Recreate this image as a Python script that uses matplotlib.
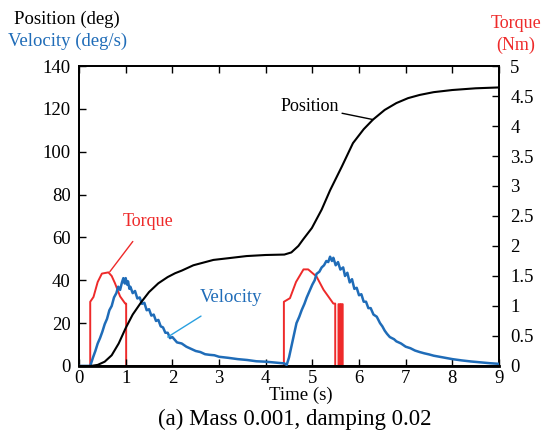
import matplotlib
matplotlib.use("Agg")
import matplotlib.pyplot as plt

plt.rcParams["font.family"] = ["Liberation Serif", "DejaVu Serif"]
plt.rcParams["font.size"] = 13

# 위치 (deg)
pos_t = [0, 0.25, 0.4, 0.55, 0.7, 0.85, 1.0, 1.15, 1.34, 1.5, 1.7, 1.9, 2.06, 2.2,
         2.45, 2.88, 3.2, 3.59, 4.0, 4.4, 4.55, 4.7, 4.8, 4.99, 5.2, 5.38, 5.63,
         5.87, 6.1, 6.3, 6.55, 6.8, 7.05, 7.3, 7.6, 8.0, 8.5, 9.0]
pos_v = [0, 0, 0.5, 2, 5, 10.5, 17.7, 24, 30, 34.5, 38.6, 41.5, 43.3, 44.5,
         47, 49.5, 50.3, 51.3, 51.8, 52, 53, 56, 59, 64.4, 73, 82, 93,
         104, 110.5, 115, 119.5, 122.7, 125, 126.5, 127.8, 128.8, 129.6, 130]

# 속도 (deg/s)
vel_t = [0, 0.24, 0.3, 0.35, 0.4, 0.45, 0.5, 0.55, 0.6, 0.65, 0.7, 0.75, 0.8, 0.84,
         0.88, 0.92, 0.95, 0.98, 1.0, 1.03, 1.05, 1.08, 1.1, 1.15, 1.2, 1.25, 1.3,
         1.35, 1.4, 1.45, 1.5, 1.55, 1.6, 1.65, 1.7, 1.75, 1.8, 1.85, 1.9, 1.95,
         2.0, 2.1, 2.2, 2.3, 2.4, 2.5, 2.6, 2.7, 2.8, 2.9, 3.0, 3.2, 3.4, 3.6,
         3.8, 4.0, 4.2, 4.4,
         4.45, 4.5, 4.55, 4.6, 4.66, 4.72, 4.77, 4.83, 4.88, 4.94, 5.0, 5.05, 5.09,
         5.15, 5.2, 5.25, 5.3, 5.34, 5.38, 5.42, 5.45, 5.5, 5.55, 5.6, 5.66, 5.7,
         5.75, 5.8, 5.85, 5.9, 5.95, 6.0, 6.05, 6.1, 6.15, 6.2, 6.25, 6.31, 6.38,
         6.45, 6.5, 6.55, 6.6, 6.66, 6.75, 6.8, 6.9, 7.0, 7.1, 7.2, 7.3, 7.4, 7.5,
         7.6, 7.7, 7.8, 7.9, 8.0, 8.2, 8.4, 8.6, 8.8, 9.0]
vel_v = [0, 0, 4, 7, 10.5, 13, 16, 19.5, 22, 26, 28, 32, 34, 37,
         35.5, 39, 41, 38.5, 41, 38, 39.5, 36, 37, 34, 35, 31.5, 32,
         29, 29.5, 26, 26.5, 23.5, 24, 21, 21.5, 18.5, 18, 15.5, 15.5, 13,
         13.5, 11, 10.5, 9, 8, 7, 6.5, 5.5, 5.2, 5, 4.3, 3.8, 3.2, 2.8,
         2.2, 2.0, 1.6, 1.2,
         0.5, 4, 9, 14, 20, 23, 26, 29, 32, 35, 38, 40, 43,
         44, 46, 47, 49, 48.5, 51, 49, 50.5, 47, 48.5, 45, 46, 42,
         43.5, 39, 40.5, 36, 36.5, 33, 33.5, 30, 30, 27, 27, 24, 23,
         20, 18.5, 16.5, 15, 13.5, 12.5, 11.5, 10.5, 9, 8.3, 7.2, 6.5, 5.9, 5.4,
         4.8, 4.4, 4, 3.6, 3.2, 2.6, 2.1, 1.7, 1.3, 1.0]

# 토크 (Nm)
trq_t = [0, 0.24, 0.24, 0.31, 0.4, 0.49, 0.63, 0.7, 0.77, 0.88, 0.99, 1.01, 1.01,
         4.39, 4.39, 4.52, 4.65, 4.81, 4.91, 5.09, 5.24, 5.35, 5.45, 5.49, 5.49,
         5.56, 5.56, 5.585, 5.585, 5.61, 5.61, 5.65, 5.65, 7.65]
trq_v = [0, 0, 1.07, 1.15, 1.4, 1.54, 1.56, 1.5, 1.38, 1.16, 1.04, 1.04, 0,
         0, 1.07, 1.13, 1.4, 1.61, 1.61, 1.49, 1.27, 1.15, 1.04, 1.04, 0,
         0, 1.03, 1.03, 0, 0, 1.03, 1.03, 0, 0]

blue = "#1f6cb8"
red = "#ee2a2a"

fig = plt.figure(figsize=(5.42, 4.36), dpi=100)
ax = fig.add_axes([0.1458, 0.1606, 0.7749, 0.688])
ax2 = ax.twinx()

ax2.plot(trq_t, trq_v, color=red, lw=1.4, zorder=2)
ax.plot(vel_t, vel_v, color=blue, lw=1.8, zorder=3)
ax.plot(pos_t, pos_v, color="black", lw=1.5, zorder=4)
ax.set_zorder(ax2.get_zorder() + 1)
ax.patch.set_visible(False)

ax.set_xlim(0, 9)
ax.set_ylim(0, 140)
ax2.set_ylim(0, 5)
ax.set_xticks(range(0, 10))
ax.set_yticks(range(0, 141, 20))
ax2.set_yticks([i * 0.5 for i in range(11)])
ax2.set_yticklabels(["0", "0.5", "1", "1.5", "2", "2.5", "3", "3.5", "4", "4.5", "5"])

for a in (ax, ax2):
    for s in a.spines.values():
        s.set_linewidth(1.3)
ax.spines["bottom"].set_linewidth(2)
ax.tick_params(axis="both", direction="in", length=5, width=1, top=True, labelsize=13.5, pad=3)
ax.tick_params(axis="y", right=False, pad=6)
ax2.tick_params(axis="y", direction="in", length=5, width=1, labelsize=13.5, pad=8)

ax.set_xlabel("Time (s)", fontsize=13.5)
ax.xaxis.set_label_coords(0.527, -0.068)

# 주석
ax.annotate("Position", xy=(6.3, 115), xytext=(4.95, 121), fontsize=13,
            ha="center", va="center",
            arrowprops=dict(arrowstyle="-", color="black", lw=1, shrinkA=30, shrinkB=0))
ax.annotate("Velocity", xy=(1.9, 13.5), xytext=(3.25, 32), fontsize=13.5, color=blue,
            ha="center", va="center",
            arrowprops=dict(arrowstyle="-", color="#2aa0e0", lw=1, shrinkA=10, shrinkB=0))
ax.annotate("Torque", xy=(0.66, 44), xytext=(1.48, 67.5), fontsize=13, color=red,
            ha="center", va="center",
            arrowprops=dict(arrowstyle="-", color=red, lw=1, shrinkA=8, shrinkB=0))

fig.text(0.025, 0.955, "Position (deg)", fontsize=13.5, ha="left", va="center")
fig.text(0.015, 0.905, "Velocity (deg/s)", fontsize=13.5, ha="left", va="center", color=blue)
fig.text(0.952, 0.945, "Torque", fontsize=13, ha="center", va="center", color=red)
fig.text(0.952, 0.895, "(Nm)", fontsize=13, ha="center", va="center", color=red)

fig.text(0.543, 0.038, "(a) Mass 0.001, damping 0.02", fontsize=16.5, ha="center", va="center")

fig.savefig("out.png", dpi=100)
